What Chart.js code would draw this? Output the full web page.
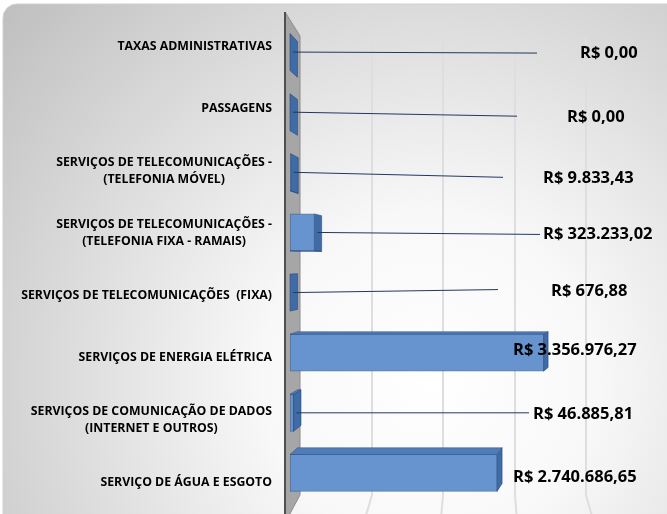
<!DOCTYPE html>
<html>
<head>
<meta charset="utf-8">
<script src="https://cdn.jsdelivr.net/npm/chart.js@4.4.1/dist/chart.umd.min.js"></script>
<style>
  html, body { margin: 0; padding: 0; background: #fff; }
  #wrap { width: 667px; height: 514px; position: relative; }
</style>
</head>
<body>
<div id="wrap"><canvas id="chart"></canvas></div>
<script>
// categories (top to bottom) and spend values
const categories = [
  ['TAXAS ADMINISTRATIVAS'],
  ['PASSAGENS'],
  ['SERVIÇOS DE TELECOMUNICAÇÕES -', '(TELEFONIA MÓVEL)'],
  ['SERVIÇOS DE TELECOMUNICAÇÕES -', '(TELEFONIA FIXA - RAMAIS)'],
  ['SERVIÇOS DE TELECOMUNICAÇÕES  (FIXA)'],
  ['SERVIÇOS DE ENERGIA ELÉTRICA'],
  ['SERVIÇOS DE COMUNICAÇÃO DE DADOS', '(INTERNET E OUTROS)'],
  ['SERVIÇO DE ÁGUA E ESGOTO']
];
const values = [0, 0, 9833.43, 323233.02, 676.88, 3356976.27, 46885.81, 2740686.65];
const gridStep = 1000000;

// hand placed data labels (layout only): text x from plot left, y shift, leader end x (null = no leader)
const labelX = [290, 277, 253, 253, 261, 223, 243, 223];
const labelDy = [1, 5, 6, 2, -1, -2, 1, 4];
const leaderEndX = [247, 227, 213, 250, 208, null, 239, null];
const leaderEndDy = [1, 4, 5, 2, -3, 0, 0, 0];

function brl(v) {
  const [i, d] = v.toFixed(2).split('.');
  return 'R$ ' + i.replace(/\B(?=(\d{3})+(?!\d))/g, '.') + ',' + d;
}

const FONT = '"Open Sans", "Liberation Sans", sans-serif';
const VP_Y = 263;
const dxAt = (x, left) => 7.5 - (x - left) * 0.012;
const dyAt = y => -(y - VP_Y) * 0.035;

// background panel with soft grey gradient
const bgPlugin = {
  id: 'bg',
  beforeDraw(chart) {
    const ctx = chart.ctx;
    ctx.save();
    ctx.fillStyle = '#fff';
    ctx.fillRect(0, 0, chart.width, chart.height);
    const g = ctx.createRadialGradient(430, 380, 0, 430, 380, 560);
    g.addColorStop(0, '#ffffff');
    g.addColorStop(0.3, '#f8f8f8');
    g.addColorStop(1, '#c0c0c0');
    ctx.beginPath();
    ctx.roundRect(3, 4, 680, 530, 14);
    ctx.fillStyle = g;
    ctx.fill();
    ctx.strokeStyle = '#d0d0d0';
    ctx.lineWidth = 1;
    ctx.stroke();
    ctx.restore();
  }
};

// side wall + back-wall gridlines + floor lines
const wallPlugin = {
  id: 'wall',
  beforeDatasetsDraw(chart) {
    const { ctx, chartArea: a, scales } = chart;
    const xs = scales.x;
    const backL = a.left + 10, scaleK = 0.947;
    const backTop = a.top + 14, backBot = a.bottom - 8;
    ctx.save();
    // gridlines on the back wall
    ctx.strokeStyle = '#dedede';
    ctx.lineWidth = 2;
    for (let v = gridStep; v <= xs.max; v += gridStep) {
      const fx = xs.getPixelForValue(v);
      const bx = Math.round(backL + (fx - a.left) * scaleK);
      ctx.beginPath();
      ctx.moveTo(bx, backTop);
      ctx.lineTo(bx, backBot);
      ctx.lineTo(fx, backBot + 22);
      ctx.stroke();
    }
    // grey side wall
    ctx.lineWidth = 1;
    ctx.beginPath();
    ctx.moveTo(a.left - 5, a.top - 10);
    ctx.lineTo(backL, backTop);
    ctx.lineTo(backL, backBot);
    ctx.lineTo(a.left - 5, a.bottom + 20);
    ctx.closePath();
    ctx.fillStyle = '#a6a6a6';
    ctx.fill();
    ctx.strokeStyle = '#8c8c8c';
    ctx.stroke();
    ctx.beginPath();
    ctx.moveTo(a.left - 5, a.top - 10);
    ctx.lineTo(a.left - 5, a.bottom + 20);
    ctx.strokeStyle = '#505050';
    ctx.lineWidth = 2;
    ctx.stroke();
    ctx.restore();
  }
};

function poly(ctx, pts, fill, stroke) {
  ctx.beginPath();
  ctx.moveTo(pts[0][0], pts[0][1]);
  for (let i = 1; i < pts.length; i++) ctx.lineTo(pts[i][0], pts[i][1]);
  ctx.closePath();
  ctx.fillStyle = fill;
  ctx.fill();
  ctx.strokeStyle = stroke;
  ctx.lineWidth = 0.8;
  ctx.stroke();
}

// 3D faces, leader lines, value labels, category labels
const deco = {
  id: 'deco',
  afterDatasetsDraw(chart) {
    const { ctx, chartArea: a } = chart;
    const meta = chart.getDatasetMeta(0);
    ctx.save();
    meta.data.forEach((bar, i) => {
      const x0 = bar.base, x1 = bar.x;
      const yt = bar.y - bar.height / 2, yb = bar.y + bar.height / 2;
      const bk = (x, y) => [x + dxAt(x, a.left), y + dyAt(y)];
      // end face
      poly(ctx, [[x1, yt], bk(x1, yt), bk(x1, yb), [x1, yb]], '#3f6ba6', 'rgba(40,70,120,0.7)');
      // top / bottom face
      if (x1 - x0 > 0.5) {
        if (dyAt(yt) < 0) poly(ctx, [[x0, yt], [x1, yt], bk(x1, yt), bk(x0, yt)], '#4f7dba', 'rgba(40,70,120,0.6)');
        if (dyAt(yb) > 0) poly(ctx, [[x0, yb], [x1, yb], bk(x1, yb), bk(x0, yb)], '#4f7dba', 'rgba(40,70,120,0.6)');
      }
    });
    // leader lines + value labels
    ctx.font = 'bold 16.5px ' + FONT;
    ctx.textBaseline = 'middle';
    ctx.textAlign = 'left';
    meta.data.forEach((bar, i) => {
      if (leaderEndX[i] !== null) {
        const sx = bar.x + dxAt(bar.x, a.left) * 0.4;
        ctx.beginPath();
        ctx.moveTo(sx, bar.y);
        ctx.lineTo(a.left + leaderEndX[i], bar.y + leaderEndDy[i]);
        ctx.strokeStyle = '#1f3a60';
        ctx.lineWidth = 1;
        ctx.stroke();
      }
      ctx.fillStyle = '#000';
      ctx.fillText(brl(values[i]), a.left + labelX[i], bar.y + labelDy[i]);
    });
    // category labels: block right aligned, lines centred
    ctx.font = 'bold 12.3px ' + FONT;
    meta.data.forEach((bar, i) => {
      const lines = categories[i];
      const w = Math.max(...lines.map(l => ctx.measureText(l).width));
      const cx = a.left - 18 - w / 2;
      const cy = bar.y + 2 + (bar.y - VP_Y) * 0.0355;
      const lh = 17;
      ctx.textAlign = 'center';
      lines.forEach((l, k) => {
        ctx.fillText(l, cx, cy + (k - (lines.length - 1) / 2) * lh);
      });
    });
    ctx.restore();
  }
};

new Chart(document.getElementById('chart'), {
  type: 'bar',
  data: {
    labels: categories,
    datasets: [{
      data: values,
      backgroundColor: '#6794ce',
      borderColor: 'rgba(55,95,150,0.8)',
      borderWidth: 1,
      borderSkipped: false,
      barThickness: 37
    }]
  },
  options: {
    indexAxis: 'y',
    responsive: true,
    maintainAspectRatio: false,
    animation: false,
    layout: { padding: { left: 290, right: 37, top: 22, bottom: 11 } },
    scales: {
      x: { min: 0, max: 4500000, display: false, ticks: { stepSize: gridStep }, grid: { display: false } },
      y: { display: false, grid: { display: false } }
    },
    plugins: { legend: { display: false }, tooltip: { enabled: false } }
  },
  plugins: [bgPlugin, wallPlugin, deco]
});
</script>
</body>
</html>
